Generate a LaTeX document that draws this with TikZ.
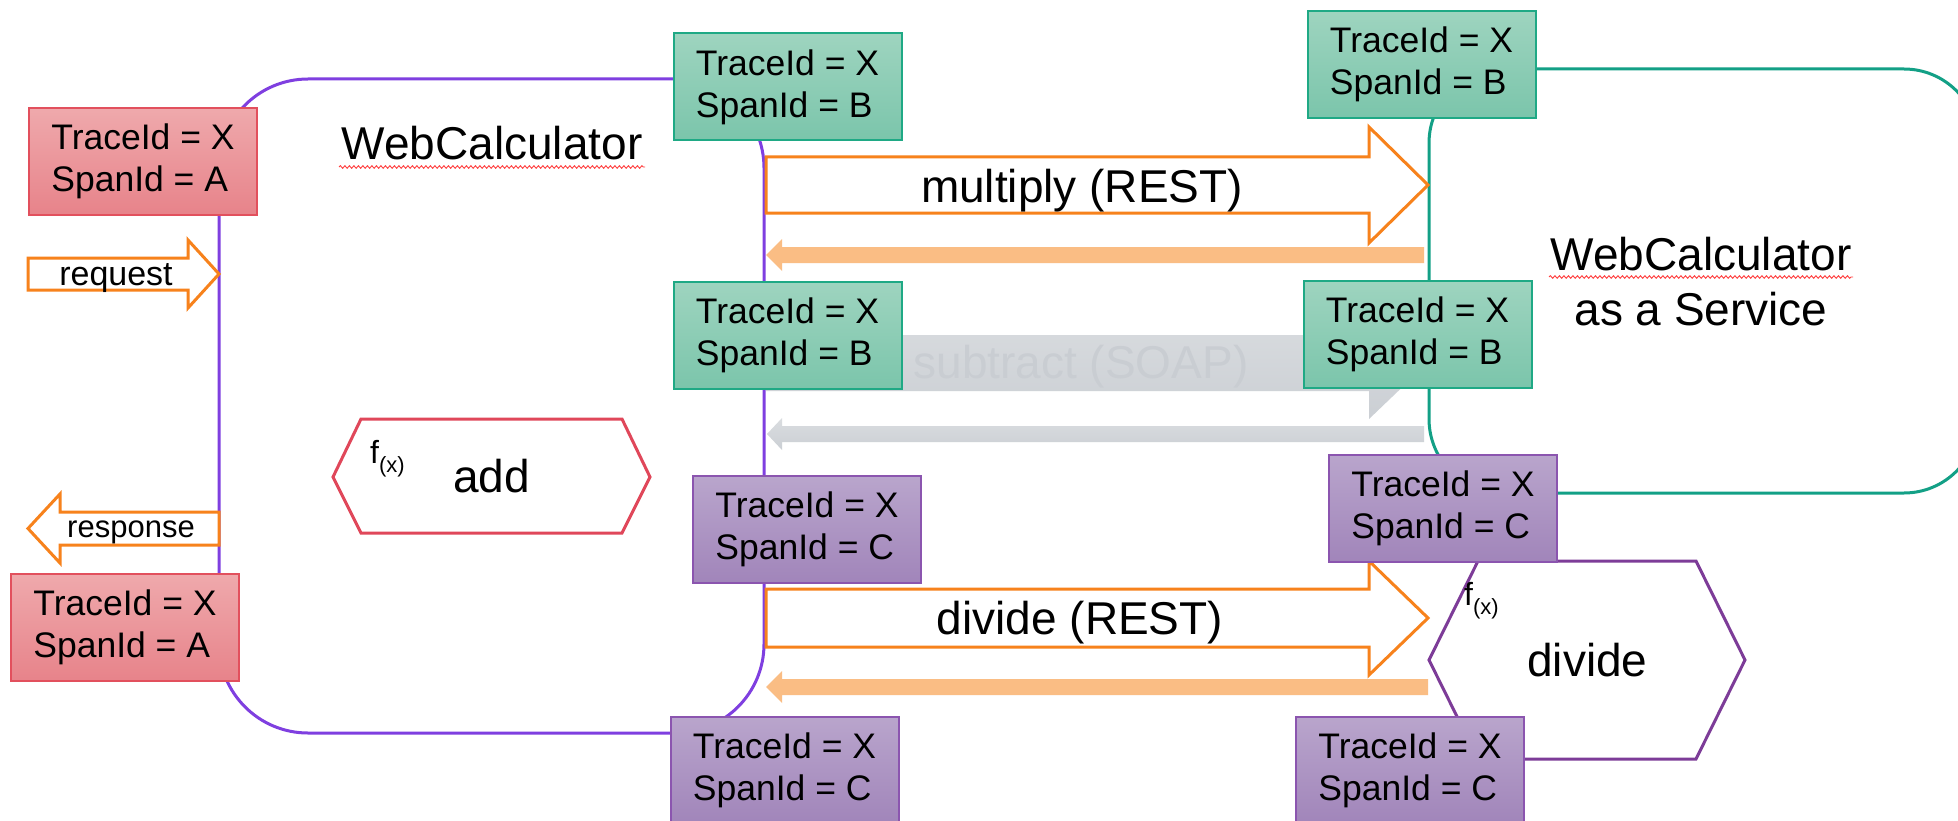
\documentclass[tikz,border=0pt]{standalone}
\usepackage{fontspec}
\setmainfont{Liberation Sans}
\usetikzlibrary{decorations.pathmorphing}
\definecolor{redtop}{HTML}{EFA9AC}
\definecolor{redbot}{HTML}{E7838A}
\definecolor{redline}{HTML}{E2505D}
\definecolor{greentop}{HTML}{9ED4BF}
\definecolor{greenbot}{HTML}{7BC5AB}
\definecolor{greenline}{HTML}{1FA985}
\definecolor{purtop}{HTML}{B9A5CC}
\definecolor{purbot}{HTML}{A185BA}
\definecolor{purline}{HTML}{8B55AF}
\definecolor{violet}{HTML}{7F3FE0}
\definecolor{tealc}{HTML}{13A086}
\definecolor{orangec}{HTML}{F7821C}
\definecolor{retorange}{HTML}{FABD84}
\definecolor{graytop}{HTML}{DADDE0}
\definecolor{graybot}{HTML}{CBCFD4}
\definecolor{graytext}{HTML}{C9CDD2}
\definecolor{addred}{HTML}{E0475A}
\definecolor{divpur}{HTML}{7D3C98}
\newcommand{\bigfont}{\fontsize{46}{55}\selectfont}
\newcommand{\tagfont}{\fontsize{35.5}{42}\selectfont}
\newcommand{\fxlabel}{f\raisebox{-9pt}{\fontsize{22}{22}\selectfont(x)}}
\begin{document}
\begin{tikzpicture}[x=1pt,y=-1pt,
  tag/.style={draw, line width=2, minimum width=228, minimum height=107, inner sep=0, align=left, font=\tagfont},
  tagred/.style={tag, draw=redline, top color=redtop, bottom color=redbot},
  taggreen/.style={tag, draw=greenline, top color=greentop, bottom color=greenbot},
  tagpur/.style={tag, draw=purline, top color=purtop, bottom color=purbot},
  blockout/.style={draw=orangec, line width=3, fill=white, line join=miter},
  grayblock/.style={top color=graytop, bottom color=graybot, draw=none},
  txt/.style={inner sep=0, anchor=base},
  wavy/.style={draw=red!75, line width=0.9, decorate, decoration={snake, amplitude=1.3, segment length=4.5}}
]
\clip (0,0) rectangle (1958,821);
\fill[white] (0,0) rectangle (1958,821);

% containers
\draw[violet, line width=3, rounded corners=89] (219,79) rectangle (764,733);
\draw[tealc, line width=3, rounded corners=74] (1429,69) rectangle (1978,493);

% subtract (grey, behind boxes)
\path[grayblock] (766,335) -- (1369,335) -- (1369,306) -- (1428,362.5) -- (1369,419) -- (1369,391) -- (766,391) -- cycle;
\node[txt, font=\bigfont, text=graytext] (subtxt) at (1081,378) {subtract (SOAP)};
\path[grayblock] (1424,426) -- (782,426) -- (782,418) -- (767,434) -- (782,450) -- (782,442) -- (1424,442) -- cycle;

% multiply
\draw[blockout] (766,157) -- (1369,157) -- (1369,127) -- (1428,185) -- (1369,243) -- (1369,213) -- (766,213) -- cycle;
\node[txt, font=\bigfont] (multxt) at (1082,202) {multiply (REST)};
\fill[retorange] (1424,247) -- (782,247) -- (782,239) -- (766,255) -- (782,271) -- (782,263) -- (1424,263) -- cycle;

% divide
\draw[blockout] (766,589) -- (1369,589) -- (1369,561) -- (1428,618) -- (1369,675) -- (1369,647) -- (766,647) -- cycle;
\node[txt, font=\bigfont] (divtxt) at (1080,634) {divide (REST)};
\fill[retorange] (1428,679) -- (782,679) -- (782,671) -- (766,687) -- (782,703) -- (782,695) -- (1428,695) -- cycle;

% request / response
\draw[blockout] (28,258) -- (188,258) -- (188,240) -- (219,274) -- (188,308) -- (188,290) -- (28,290) -- cycle;
\node[txt, font=\fontsize{34}{34}\selectfont] (req) at (116,285) {request};
\draw[blockout] (219,512) -- (60,512) -- (60,494) -- (28,528.5) -- (60,563) -- (60,545) -- (219,545) -- cycle;
\node[txt, font=\fontsize{31}{31}\selectfont] (resp) at (131,537) {response};

% hexagons
\draw[addred, line width=3] (333,477) -- (361,419) -- (622,419) -- (650,477) -- (622,533) -- (361,533) -- cycle;
\node[txt, anchor=base west, font=\fontsize{32}{32}\selectfont] (addfx) at (370,463) {\fxlabel};
\node[txt, anchor=base west, font=\bigfont] (addtxt) at (453,492) {add};
\draw[divpur, line width=3] (1429,660) -- (1478,561) -- (1696,561) -- (1745,660) -- (1696,759) -- (1478,759) -- cycle;
\node[txt, anchor=base west, font=\bigfont] (divfn) at (1527,676) {divide};

% titles
\node[txt, font=\bigfont] (title1) at (492,160) {WebCalculator};
\draw[wavy] (339,167) -- (645,167);
\node[txt, font=\bigfont] (title2) at (1701,270) {WebCalculator};
\draw[wavy] (1549,277) -- (1853,277);
\node[txt, font=\bigfont] (title3) at (1701,325) {as a Service};

% tags
\node[tagred] (a1) at (143,161.5) {TraceId = X\\SpanId = A};
\node[tagred] (a2) at (125,627.5) {TraceId = X\\SpanId = A};
\node[taggreen] (b1) at (787.5,87) {TraceId = X\\SpanId = B};
\node[taggreen] (b2) at (787.5,335.5) {TraceId = X\\SpanId = B};
\node[taggreen] (b3) at (1421.5,64.5) {TraceId = X\\SpanId = B};
\node[taggreen] (b4) at (1417.5,334.5) {TraceId = X\\SpanId = B};
\node[tagpur] (c1) at (807,529.5) {TraceId = X\\SpanId = C};
\node[tagpur] (c2) at (1443,508) {TraceId = X\\SpanId = C};
\node[tagpur] (c3) at (784.5,770) {TraceId = X\\SpanId = C};
\node[tagpur] (c4) at (1410,770) {TraceId = X\\SpanId = C};

\node[txt, anchor=base west, font=\fontsize{32}{32}\selectfont] (divfx) at (1464,605) {\fxlabel};
\end{tikzpicture}
\end{document}
